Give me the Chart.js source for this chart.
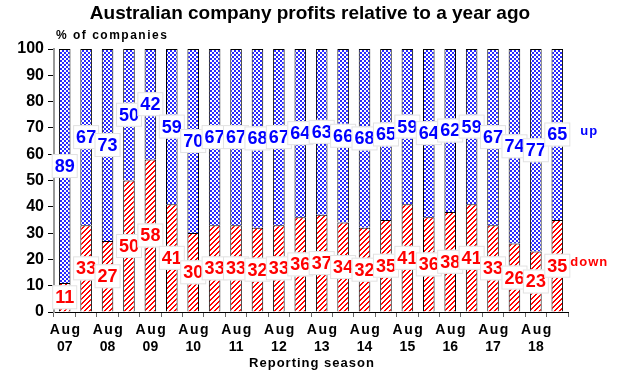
<!DOCTYPE html>
<html>
<head>
<meta charset="utf-8">
<script src="https://cdn.jsdelivr.net/npm/chart.js@4/dist/chart.umd.min.js"></script>
<style>
  body { margin: 0; background: #fff; }
  #wrap { width: 620px; height: 376px; }
</style>
</head>
<body>
<div id="wrap"><canvas id="profitChart" width="620" height="376"></canvas></div>
<script>
// Reporting seasons (Aug and Feb), only the Aug ones get a label
const seasons = ['Aug 07','Feb 08','Aug 08','Feb 09','Aug 09','Feb 10','Aug 10','Feb 11',
  'Aug 11','Feb 12','Aug 12','Feb 13','Aug 13','Feb 14','Aug 14','Feb 15',
  'Aug 15','Feb 16','Aug 16','Feb 17','Aug 17','Feb 18','Aug 18','Feb 19'];

// % of companies with profits down / up
const downValues = [11,33,27,50,58,41,30,33,33,32,33,36,37,34,32,35,41,36,38,41,33,26,23,35];
const upValues   = [89,67,73,50,42,59,70,67,67,68,67,64,63,66,68,65,59,64,62,59,67,74,77,65];

const yTicks = [0,10,20,30,40,50,60,70,80,90,100];

const FONT = '"Liberation Sans", Arial, sans-serif';

// patterns for the bars
function hatchRed() {
  const n = 5;
  const c = document.createElement('canvas');
  c.width = n; c.height = n;
  const g = c.getContext('2d');
  g.fillStyle = '#fff';
  g.fillRect(0, 0, n, n);
  g.fillStyle = '#ff0000';
  for (let i = 0; i < n; i++) {
    g.fillRect(i, n - 1 - i, 1, 1);
    g.fillRect((i + 1) % n, n - 1 - i, 1, 1);
  }
  return g.createPattern(c, 'repeat');
}

function checkBlue() {
  const c = document.createElement('canvas');
  c.width = 4; c.height = 4;
  const g = c.getContext('2d');
  g.fillStyle = '#fff';
  g.fillRect(0, 0, 4, 4);
  g.fillStyle = '#2a2aff';
  g.fillRect(0, 0, 2, 2);
  g.fillRect(2, 2, 2, 2);
  return g.createPattern(c, 'repeat');
}

// labels in the middle of each segment, white box behind
const segmentLabels = {
  id: 'segmentLabels',
  afterDatasetsDraw(chart) {
    const ctx = chart.ctx;
    ctx.save();
    ctx.font = 'bold 18px ' + FONT;
    ctx.textAlign = 'center';
    ctx.textBaseline = 'middle';
    chart.data.datasets.forEach((ds, di) => {
      const meta = chart.getDatasetMeta(di);
      meta.data.forEach((el, i) => {
        const txt = String(ds.data[i]);
        const cy = (el.y + el.base) / 2;
        const w = ctx.measureText(txt).width + 6;
        const h = 24;
        ctx.fillStyle = '#fff';
        ctx.fillRect(el.x - w / 2, cy - h / 2, w, h);
        ctx.strokeStyle = '#e2e2e2';
        ctx.lineWidth = 1;
        ctx.strokeRect(el.x - w / 2 + 0.5, cy - h / 2 + 0.5, w - 1, h - 1);
        ctx.fillStyle = ds.labelColor;
        ctx.fillText(txt, el.x, cy + 1);
      });
      // series name next to the last bar
      const last = meta.data[meta.data.length - 1];
      const ly = (last.y + last.base) / 2;
      ctx.save();
      ctx.font = 'bold 13px ' + FONT;
      ctx.letterSpacing = '1px';
      ctx.textAlign = 'left';
      ctx.fillStyle = ds.labelColor;
      ctx.fillText(ds.label, last.x + (di === 0 ? 13 : 23), ly - 3);
      ctx.restore();
    });
    ctx.restore();
  }
};

// title, axis heading and spaced-out x labels
const headings = {
  id: 'headings',
  afterDraw(chart) {
    const ctx = chart.ctx;
    const xs = chart.scales.x;
    ctx.save();
    ctx.fillStyle = '#000';
    ctx.textBaseline = 'middle';
    ctx.font = 'bold 19px ' + FONT;
    ctx.textAlign = 'center';
    ctx.fillText('Australian company profits relative to a year ago', 310, 14);

    ctx.font = 'bold 12px ' + FONT;
    ctx.letterSpacing = '1.5px';
    ctx.textAlign = 'left';
    ctx.fillText('% of companies', 56, 36);

    ctx.font = 'bold 14px ' + FONT;
    ctx.textAlign = 'center';
    seasons.forEach((s, i) => {
      if (!s.startsWith('Aug')) return;
      const [m, yr] = s.split(' ');
      const x = xs.getPixelForValue(i);
      ctx.letterSpacing = '1.5px';
      ctx.fillText(m, x + 1, 330);
      ctx.letterSpacing = '0px';
      ctx.fillText(yr, x, 347);
    });

    ctx.font = 'bold 13px ' + FONT;
    ctx.letterSpacing = '1px';
    ctx.fillText('Reporting season', 312, 363);
    ctx.restore();
  }
};

new Chart(document.getElementById('profitChart'), {
  type: 'bar',
  data: {
    labels: seasons,
    datasets: [
      {
        label: 'down',
        data: downValues,
        backgroundColor: hatchRed(),
        borderColor: '#000',
        borderWidth: 1,
        labelColor: '#ff0000'
      },
      {
        label: 'up',
        data: upValues,
        backgroundColor: checkBlue(),
        borderColor: '#000',
        borderWidth: 1,
        labelColor: '#0000ff'
      }
    ]
  },
  options: {
    responsive: false,
    animation: false,
    layout: { padding: { top: 49, right: 52, left: 0, bottom: 0 } },
    datasets: { bar: { barPercentage: 0.54, categoryPercentage: 1 } },
    plugins: {
      legend: { display: false },
      tooltip: { enabled: false }
    },
    scales: {
      x: {
        stacked: true,
        afterFit: s => { s.height = 64; },
        grid: { drawOnChartArea: false, offset: true, tickLength: 5, color: '#666' },
        border: { color: '#000', width: 1 },
        ticks: {
          autoSkip: false,
          maxRotation: 0,
          color: 'rgba(0,0,0,0)',
          font: { family: FONT, size: 14, weight: 'bold' },
          callback: () => ''
        }
      },
      y: {
        stacked: true,
        min: 0,
        max: 100,
        afterFit: s => { s.width = 54; },
        afterBuildTicks: s => { s.ticks = yTicks.map(v => ({ value: v })); },
        grid: { drawOnChartArea: false, tickLength: 6, color: '#000' },
        border: { color: '#999', width: 2 },
        ticks: {
          color: '#000',
          padding: 4,
          font: { family: FONT, size: 16, weight: 'bold' }
        }
      }
    }
  },
  plugins: [segmentLabels, headings]
});
</script>
</body>
</html>
